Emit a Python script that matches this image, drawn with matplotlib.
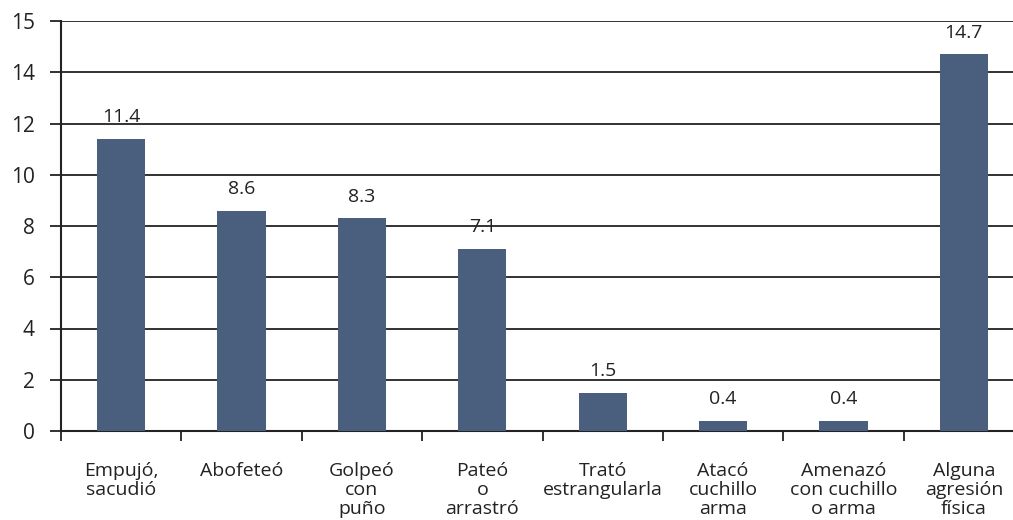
import numpy as np
import matplotlib.pyplot as plt

plt.rcParams['font.family'] = ['Open Sans', 'DejaVu Sans']

# Datos
categorias = ["Empujó,\nsacudió", "Abofeteó", "Golpeó\ncon\npuño", "Pateó\no\narrastró",
              "Trató\nestrangularla", "Atacó\ncuchillo\narma", "Amenazó\ncon cuchillo\no arma",
              "Alguna\nagresión\nfísica"]
valores = [11.4, 8.6, 8.3, 7.1, 1.5, 0.4, 0.4, 14.7]
y_ticks = [0, 2, 4, 6, 8, 10, 12, 14, 16]
y_tick_labels = ["0", "2", "4", "6", "8", "10", "12", "14", "15"]

fig = plt.figure(figsize=(10.13, 5.2), dpi=100)
ax = fig.add_axes([61 / 1013, 89 / 520, 963 / 1013, 410 / 520])

x = np.arange(len(valores))
barras = ax.bar(x, valores, width=0.4, color='#4a5f7e', zorder=3)

for xi, v in zip(x, valores):
    ax.text(xi, v + 0.85, f"{v:.1f}", ha='center', va='center', fontsize=14, color='#222222')

ax.set_xlim(-0.5, len(valores) - 0.5)
ax.set_ylim(0, 16)
ax.set_yticks(y_ticks)
ax.set_yticklabels(y_tick_labels, fontsize=15, color='#222222')
ax.yaxis.grid(True, color='#222222', linewidth=1.3, zorder=0)
ax.tick_params(axis='y', length=8, width=1.3, color='#222222', pad=11)

ax.set_xticks(np.arange(len(valores) + 1) - 0.5)
ax.set_xticklabels([])
ax.tick_params(axis='x', length=7, width=1.3, color='#222222')
ax.set_xticks(x, minor=True)
ax.set_xticklabels(categorias, minor=True, fontsize=14, color='#222222', linespacing=1.08)
ax.tick_params(axis='x', which='minor', length=0, pad=22)

for s in ['top', 'right']:
    ax.spines[s].set_visible(False)
ax.spines['left'].set_linewidth(1.5)
ax.spines['bottom'].set_linewidth(1.5)
ax.spines['left'].set_color('#222222')
ax.spines['bottom'].set_color('#222222')

fig.savefig('out.png', dpi=100)
